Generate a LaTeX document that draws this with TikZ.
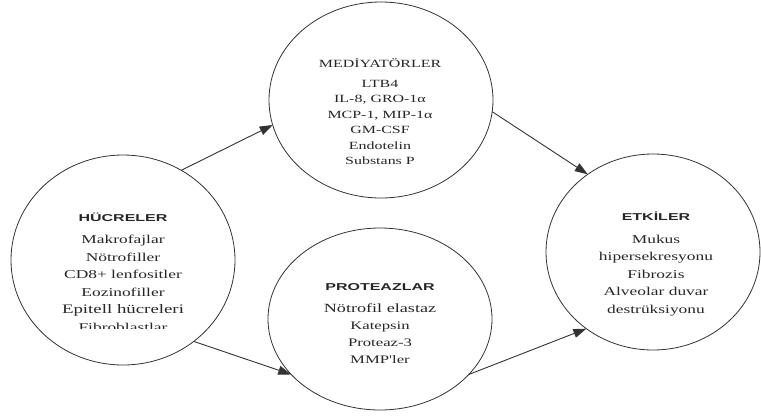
\documentclass[tikz,border=0pt]{standalone}
\usepackage{fontspec}
\setmainfont{Liberation Serif}
\newfontfamily\govde[FakeStretch=1.45]{Liberation Serif}
\newfontfamily\baslikfont[FakeStretch=1.6]{Liberation Sans}
\usetikzlibrary{shapes.geometric,arrows.meta}

\newcommand{\baslik}[1]{{\baslikfont\bfseries\fontsize{10}{12}\selectfont #1}}

\tikzset{
    oval/.style={ellipse, draw=black!80, line width=0.8pt, inner sep=0pt, outer sep=0pt},
    yazi/.style={align=center, text=black!85, font=\govde\fontsize{12}{17.5}\selectfont},
    ok/.style={-{Triangle[length=13pt,width=9pt]}, draw=black!80, line width=0.9pt}
}

\begin{document}
\begin{tikzpicture}[x=1pt, y=-1pt]
    \useasboundingbox (0,0) rectangle (761,416);

    \node[oval, minimum width=224pt, minimum height=210pt] (huc) at (123,260) {};
    \node[oval, minimum width=224pt, minimum height=196pt] (med) at (381,100) {};
    \node[oval, minimum width=224pt, minimum height=182pt] (pro) at (380,319) {};
    \node[oval, minimum width=214pt, minimum height=196pt] (etk) at (653,252) {};

    \begin{scope}
        \clip (0,0) rectangle (761,328);
        \node[yazi, anchor=north] (hucT) at (123,209) {\baslik{HÜCRELER}\\[5pt]
            Makrofajlar\\ Nötrofiller\\ CD8+ lenfositler\\ Eozinofiller\\
            {\fontsize{13}{17.5}\selectfont Epitell hücreleri}\\ Fibroblastlar};
    \end{scope}

    \node[yazi, font=\govde\fontsize{11}{15.5}\selectfont] (medT) at (380,112) {MEDİYATÖRLER\\[4pt]
        LTB4\\ IL-8, GRO-1α\\ MCP-1, MIP-1α\\ GM-CSF\\ Endotelin\\ Substans P};

    \node[yazi, font=\govde\fontsize{11.5}{17}\selectfont] (proT) at (380,324) {\baslik{PROTEAZLAR}\\[5pt]
        {\fontsize{12.5}{17}\selectfont Nötrofil elastaz}\\ Katepsin\\ Proteaz-3\\ MMP'ler};

    \node[yazi] (etkT) at (656,264) {\baslik{ETKİLER}\\[5pt]
        Mukus\\ hipersekresyonu\\ Fibrozis\\ Alveolar duvar\\ destrüksiyonu};

    \draw[ok] (huc.57) -- (med.193);
    \draw[ok] (huc.311) -- (pro.212);
    \draw[ok] (med.354) -- (etk.130);
    \draw[ok] (pro.328) -- (etk.229);
\end{tikzpicture}
\end{document}
